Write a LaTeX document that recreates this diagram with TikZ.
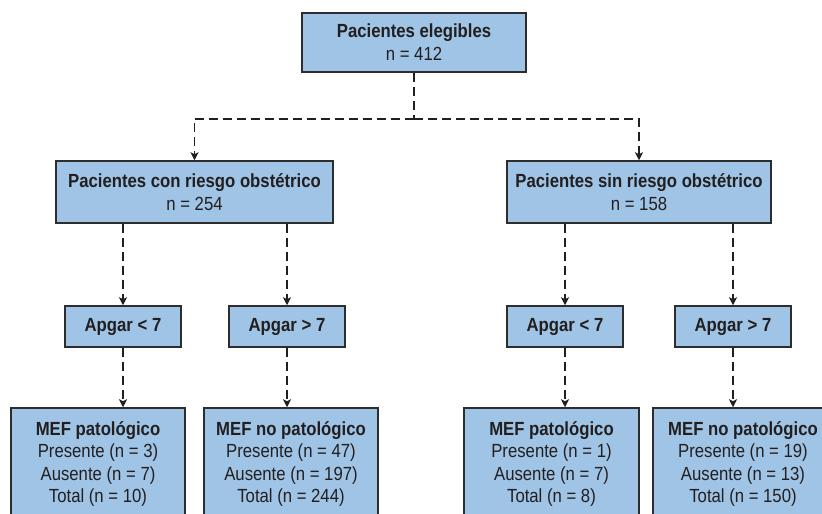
\documentclass[tikz,border=0pt]{standalone}
\usepackage{fontspec}
\setmainfont[FakeStretch=0.88]{Liberation Sans}
\usetikzlibrary{positioning,arrows.meta}

\definecolor{boxblue}{RGB}{159,196,229}
\definecolor{boxline}{RGB}{45,45,45}
\definecolor{inktext}{RGB}{35,31,32}

\begin{document}
\begin{tikzpicture}[x=1pt,y=-1pt]
% Define styles for nodes and edges
\tikzstyle{groupbox} = [rectangle, draw=boxline, line width=1.5pt, fill=boxblue, text=inktext, align=center, inner sep=0pt, font=\fontsize{19}{23}\selectfont]
\tikzstyle{riskbox} = [groupbox, minimum height=62pt]
\tikzstyle{apgarbox} = [groupbox, minimum width=116pt, minimum height=41pt, font=\bfseries\fontsize{19}{22}\selectfont]
\tikzstyle{mefbox} = [groupbox, minimum height=112pt, font=\fontsize{19}{22.5}\selectfont]
\tikzstyle{dashline} = [line width=1.8pt, draw=inktext, dash pattern=on 9pt off 5pt]
\tikzstyle{arrow} = [dashline, -{Stealth[length=8pt,width=8pt,inset=2pt]}]

\useasboundingbox (0,0) rectangle (822,514);
\clip (0,0) rectangle (822,514);

% Nodes
\node[groupbox, minimum width=224pt, minimum height=59pt] (eleg) at (414,42.5) {\textbf{Pacientes elegibles}\\n = 412};
\node[riskbox, minimum width=277pt] (con) at (194.5,192) {\textbf{Pacientes con riesgo obstétrico}\\n = 254};
\node[riskbox, minimum width=264pt] (sin) at (639,192) {\textbf{Pacientes sin riesgo obstétrico}\\n = 158};

\node[apgarbox] (conlow) at (123,326.5) {Apgar < 7};
\node[apgarbox] (conhigh) at (287,326.5) {Apgar > 7};
\node[apgarbox] (sinlow) at (565,326.5) {Apgar < 7};
\node[apgarbox] (sinhigh) at (733,326.5) {Apgar > 7};

\node[mefbox, minimum width=174pt] (conpat) at (98,464) {\textbf{MEF patológico}\\Presente (n = 3)\\Ausente (n = 7)\\Total (n = 10)};
\node[mefbox, minimum width=174pt] (connopat) at (291,464) {\textbf{MEF no patológico}\\Presente (n = 47)\\Ausente (n = 197)\\Total (n = 244)};
\node[mefbox, minimum width=175pt] (sinpat) at (551.5,464) {\textbf{MEF patológico}\\Presente (n = 1)\\Ausente (n = 7)\\Total (n = 8)};
\node[mefbox, minimum width=180pt] (sinnopat) at (743,464) {\textbf{MEF no patológico}\\Presente (n = 19)\\Ausente (n = 13)\\Total (n = 150)};

% Edges
\draw[dashline] (eleg.south) -- ++(0,46) coordinate (split);
\draw[arrow] (split) -| (con.north);
\draw[arrow] (split) -| (sin.north);

\draw[arrow] (con.south -| conlow) -- (conlow.north);
\draw[arrow] (con.south -| conhigh) -- (conhigh.north);
\draw[arrow] (sin.south -| sinlow) -- (sinlow.north);
\draw[arrow] (sin.south -| sinhigh) -- (sinhigh.north);

\draw[arrow] (conlow.south) -- (conlow.south |- conpat.north);
\draw[arrow] (conhigh.south) -- (conhigh.south |- connopat.north);
\draw[arrow] (sinlow.south) -- (sinlow.south |- sinpat.north);
\draw[arrow] (sinhigh.south) -- (sinhigh.south |- sinnopat.north);
\end{tikzpicture}
\end{document}
